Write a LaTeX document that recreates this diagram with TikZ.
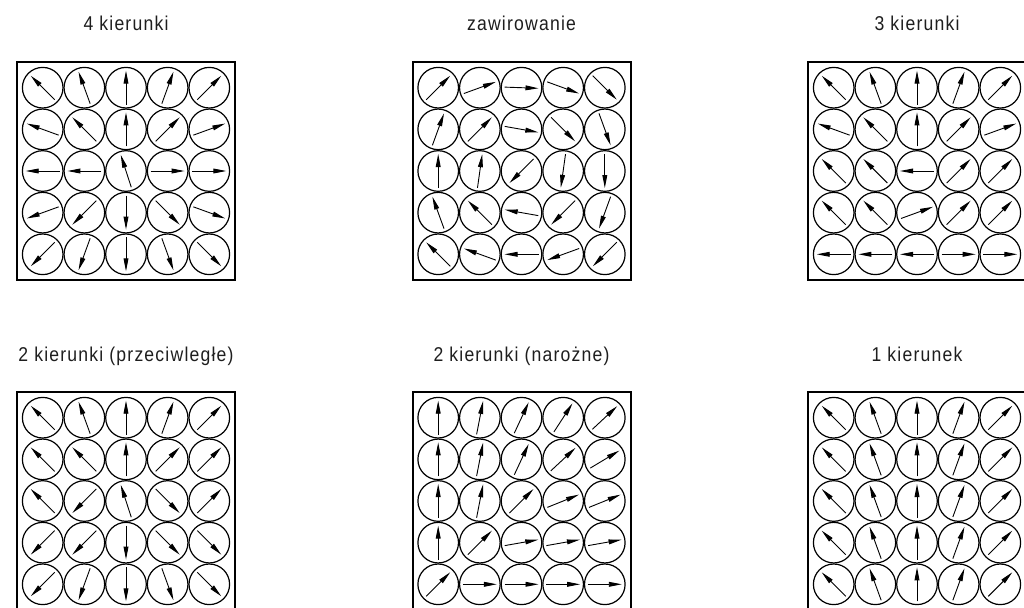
\documentclass[tikz,border=0pt]{standalone}
\usepackage{fontspec}
\setmainfont{Liberation Sans}[FakeStretch=0.88,LetterSpace=6.0]
\usetikzlibrary{arrows.meta}
\definecolor{inkgray}{RGB}{30,30,30}
\tikzset{
  panelbox/.style={draw=black, line width=2pt, minimum size=218pt, inner sep=0pt},
  cell/.style={circle, draw=black, line width=1.2pt, minimum size=40.6pt, inner sep=0pt},
  vec/.style={line width=0.9pt, -{Triangle[length=13pt,width=4.8pt]}},
  ptitle/.style={anchor=base, inner sep=0pt, text=inkgray, font=\fontsize{20}{22}\selectfont}
}
\newcommand\drawpanel[5]{%
  \node[panelbox] (#1) at (#2,#3) {};
  \node[ptitle] (#1-t) at (#2,#3+140) {#4};
  \foreach \ang [count=\idx from 0] in {#5} {
    \pgfmathtruncatemacro\prow{int(\idx/5)}
    \pgfmathtruncatemacro\pcol{mod(\idx,5)}
    \node[cell] (#1-\prow-\pcol) at ({#2+(\pcol-2)*41.65},{#3-(\prow-2)*41.65}) {};
    \draw[vec] (#1-\prow-\pcol.center) ++(\ang+180:17) -- ++(\ang:34);
  }%
}
\begin{document}
\begin{tikzpicture}[x=1pt,y=1pt]
\useasboundingbox (0,0) rectangle (1024,-607);
\clip (0,0) rectangle (1024,-607);
\drawpanel{pa}{126}{-171}{4 kierunki}{135,110,90,70,45, 160,135,90,45,20, 180,180,108,0,0, 200,225,270,315,340, 225,250,270,290,315}
\drawpanel{pb}{521.5}{-171}{zawirowanie}{45,20,-2,-20,-45, 70,45,-10,-45,-70, 90,82,225,262,270, 110,135,170,225,250, 135,160,180,200,225}
\drawpanel{pc}{917}{-171}{3 kierunki}{135,110,90,70,45, 160,135,90,45,20, 135,135,180,45,45, 135,135,20,45,45, 180,180,180,0,0}
\drawpanel{pd}{126}{-501}{2 kierunki (przeciwległe)}{135,110,90,70,45, 135,135,90,45,45, 135,225,108,315,45, 225,225,270,315,315, 225,250,270,290,315}
\drawpanel{pe}{521.5}{-501}{2 kierunki (narożne)}{90,79,65,57,43, 90,79,65,43,31, 90,79,45,22,22, 90,45,10,10,10, 45,0,0,0,0}
\drawpanel{pf}{917}{-501}{1 kierunek}{135,110,90,70,45, 135,110,90,70,45, 135,110,90,70,45, 135,110,90,70,45, 135,110,90,70,45}
\end{tikzpicture}
\end{document}
